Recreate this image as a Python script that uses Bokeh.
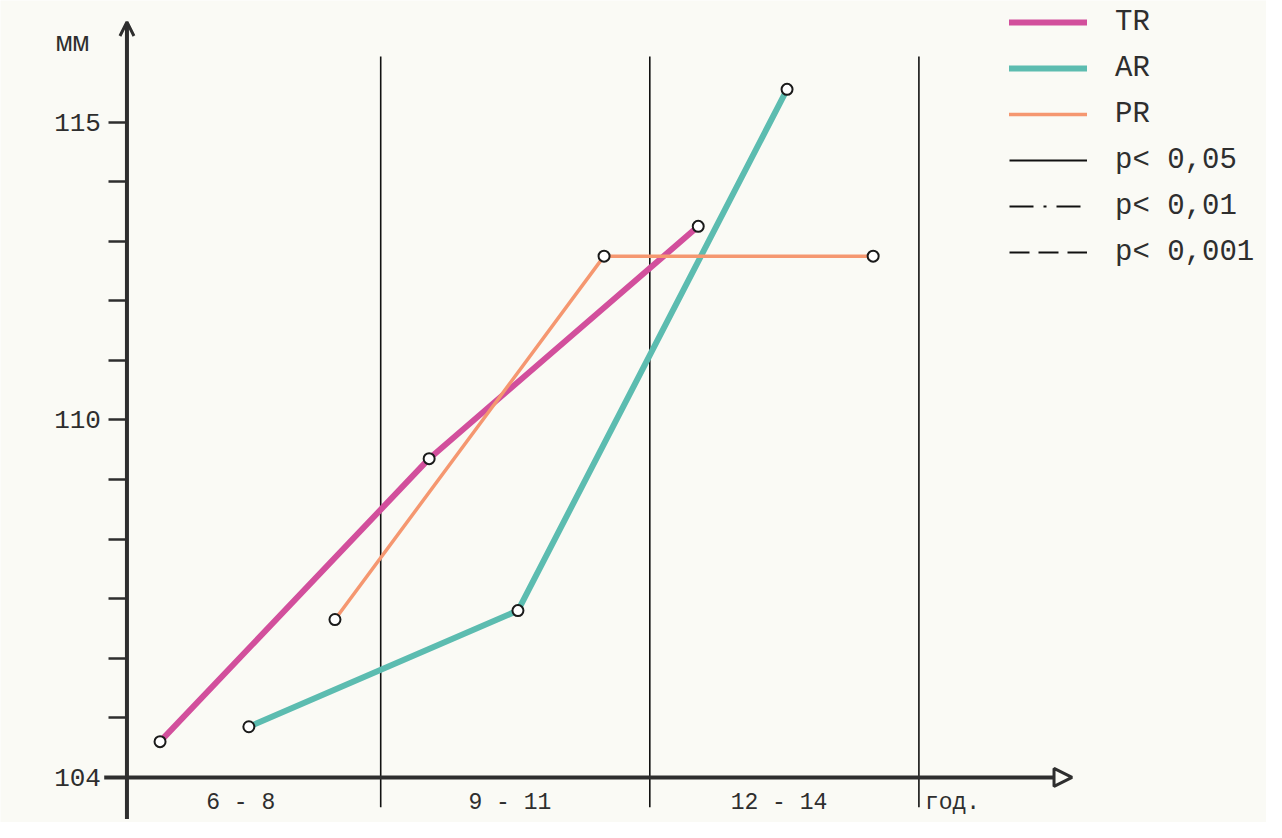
from bokeh.plotting import figure
from bokeh.models import (LinearAxis, FixedTicker, Range1d, Arrow, NormalHead,
                          OpenHead, Legend, LegendItem)
from bokeh.core.properties import value
from bokeh.embed import file_html
from bokeh.resources import INLINE

# ---------------- data ----------------
age_groups = ["6 - 8", "9 - 11", "12 - 14"]
year_label = "год."
series_names = ["TR", "AR", "PR"]
tr_values = [104.6, 109.35, 113.25]
ar_values = [104.85, 106.8, 115.55]
pr_values = [106.65, 112.75, 112.75]
y_ticks = list(range(104, 116))
y_labelled = [104, 110, 115]
y_unit = "мм"
p_labels = ["p< 0,05", "p< 0,01", "p< 0,001"]

# ---------------- style ----------------
W, H = 1266, 822
FONT = "Liberation Mono"
INK = "#2e2e2e"
BG = "#fafaf5"
colors = {"TR": "#d24f9c", "AR": "#5cbcb0", "PR": "#f59770"}
widths = {"TR": 6, "AR": 6, "PR": 3.5}
offsets = {"TR": 0.18, "AR": 0.51, "PR": 0.83}
AXIS_X = 0.057

p = figure(width=W, height=H, output_backend="svg", toolbar_location=None,
           x_range=Range1d(-0.4129, 4.2917), y_range=Range1d(103.243, 117.041),
           min_border=0, x_axis_type=None, y_axis_type=None,
           background_fill_color=BG, border_fill_color=BG,
           outline_line_color=None)

# y axis (ticks + labels)
yaxis = LinearAxis(fixed_location=AXIS_X, ticker=FixedTicker(ticks=y_ticks),
                   major_label_overrides={t: (str(t) if t in y_labelled else "") for t in y_ticks},
                   axis_line_color=None, major_tick_line_color=INK,
                   major_tick_line_width=2.5, major_tick_out=18, major_tick_in=0,
                   minor_tick_line_color=None, major_label_standoff=8,
                   major_label_text_font=FONT, major_label_text_font_size="26px",
                   major_label_text_color=INK)
p.add_layout(yaxis, "left")

# x axis (group labels)
label_pos = [i + 0.48 for i in range(len(age_groups))] + [len(age_groups) + 0.125]
xaxis = LinearAxis(fixed_location=y_ticks[0], ticker=FixedTicker(ticks=label_pos),
                   major_label_overrides=dict(zip(label_pos, age_groups + [year_label])),
                   axis_line_color=None, major_tick_line_color=None,
                   minor_tick_line_color=None, major_label_standoff=7,
                   major_label_text_font=FONT, major_label_text_font_size="23px",
                   major_label_text_color=INK)
p.add_layout(xaxis, "below")

# axis lines with arrows
p.add_layout(Arrow(end=OpenHead(size=14, line_color=INK, line_width=3),
                   x_start=AXIS_X, y_start=103.3, x_end=AXIS_X, y_end=116.68,
                   line_color=INK, line_width=4))
p.add_layout(Arrow(end=NormalHead(size=18, fill_color=BG, line_color=INK, line_width=3),
                   x_start=-0.0275, y_start=y_ticks[0], x_end=3.569, y_end=y_ticks[0],
                   line_color=INK, line_width=4))

# group separators
sep_x = [i + 1 for i in range(len(age_groups))]
sep = p.segment(x0=sep_x, y0=103.5, x1=sep_x, y1=116.1,
                line_color="#111111", line_width=1.6)

# unit label
p.text(x=[-0.145], y=[116.32], text=[y_unit], text_font=value(FONT),
       text_font_size="28px", text_align="center", text_baseline="middle",
       text_color=INK)

# series
renderers = {}
series_vals = dict(zip(series_names, [tr_values, ar_values, pr_values]))
for name in series_names:
    vals = series_vals[name]
    xs = [i + offsets[name] for i in range(len(vals))]
    renderers[name] = p.line(xs, vals, line_color=colors[name],
                             line_width=widths[name], line_cap="round")
for name in series_names:
    vals = series_vals[name]
    xs = [i + offsets[name] for i in range(len(vals))]
    p.scatter(xs, vals, marker="circle", size=11, fill_color="white",
              line_color="#1a1a1a", line_width=2)

# significance legend entries (line styles only, nothing drawn in the plot)
nan = float("nan")
d1 = p.line([nan], [nan], line_color="#111111", line_width=2)
d2 = p.line([nan], [nan], line_color="#111111", line_width=2, line_dash="24 10 3 10")
d3 = p.line([nan], [nan], line_color="#111111", line_width=2, line_dash="20 9")

items = [LegendItem(label=n, renderers=[renderers[n]]) for n in series_names]
items += [LegendItem(label=l, renderers=[r]) for l, r in zip(p_labels, [d1, d2, d3])]
legend = Legend(items=items, location=(1009, 547), orientation="vertical",
                background_fill_alpha=0, border_line_color=None, padding=0,
                margin=0, spacing=0, glyph_width=78, glyph_height=46,
                label_height=46, label_standoff=28, label_text_font=FONT,
                label_text_font_size="29px", label_text_color=INK)
p.add_layout(legend)

open("out.html", "w").write(file_html(p, INLINE))
